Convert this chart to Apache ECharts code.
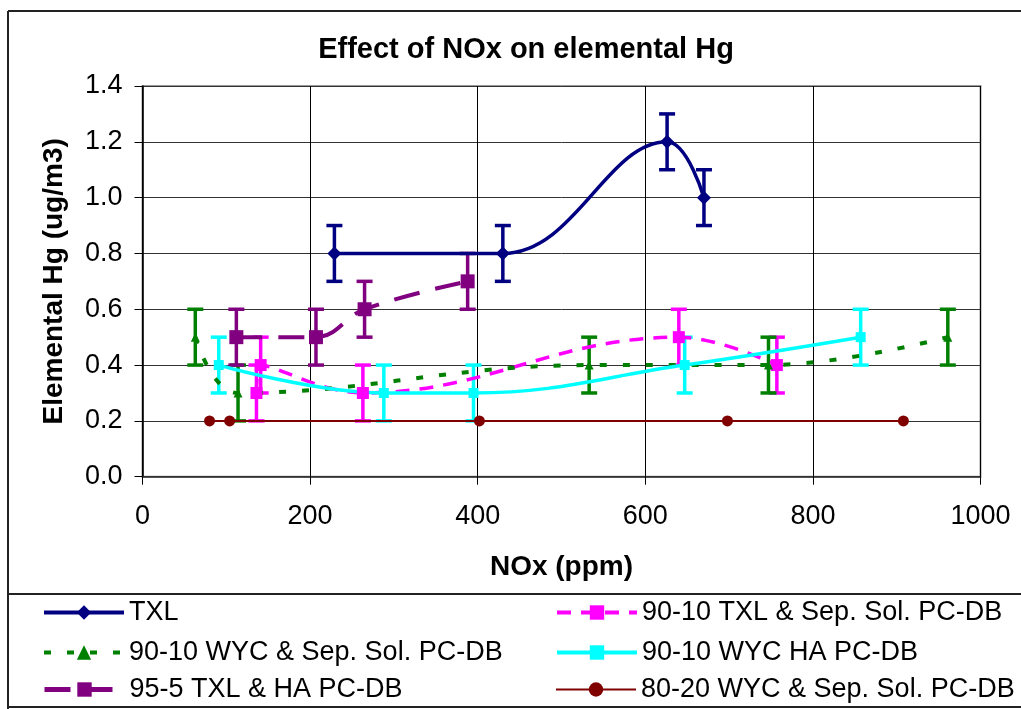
<!DOCTYPE html>
<html>
<head>
<meta charset="utf-8">
<title>Effect of NOx on elemental Hg</title>
<script src="https://cdn.jsdelivr.net/npm/echarts@6/dist/echarts.min.js"></script>
<style>
  html, body { margin: 0; padding: 0; background: #fff; }
  #chart { width: 1021px; height: 709px; }
</style>
</head>
<body>
<div id="chart"></div>
<script>
// NOx (ppm) vs elemental Hg (ug/m3); err = half height of the error bar
const txlX = [229, 430, 626, 670];
const txlY = [0.8, 0.8, 1.2, 1.0];
const txlErr = [0.1, 0.1, 0.1, 0.1];

const txlSepX = [136, 141, 263, 640, 757];
const txlSepY = [0.3, 0.4, 0.3, 0.5, 0.4];
const txlSepErr = [0.1, 0.1, 0.1, 0.1, 0.1];

const wycSepX = [63, 114, 533, 747, 961];
const wycSepY = [0.5, 0.3, 0.4, 0.4, 0.5];
const wycSepErr = [0.1, 0.1, 0.1, 0.1, 0.1];

const wycHaX = [91, 288, 395, 647, 857];
const wycHaY = [0.4, 0.3, 0.3, 0.4, 0.5];
const wycHaErr = [0.1, 0.1, 0.1, 0.1, 0.1];

const txlHaX = [112, 207, 265, 388];
const txlHaY = [0.5, 0.5, 0.6, 0.7];
const txlHaErr = [0.1, 0.1, 0.1, 0.1];

const wyc8020X = [80, 104, 402, 698, 908];
const wyc8020Y = [0.2, 0.2, 0.2, 0.2, 0.2];

const names = [
  'TXL',
  '90-10 TXL & Sep. Sol. PC-DB',
  '90-10 WYC & Sep. Sol. PC-DB',
  '90-10 WYC HA PC-DB',
  '95-5 TXL & HA PC-DB',
  '80-20 WYC & Sep. Sol. PC-DB'
];

const font = 'Liberation Sans, Arial, sans-serif';

function pts(xs, ys) {
  return xs.map((x, i) => [x, ys[i]]);
}
function errPts(xs, ys, es) {
  return xs.map((x, i) => [x, ys[i], es[i]]);
}

// vertical bar with caps, drawn through the axes
function errorBars(color) {
  return function (params, api) {
    const x = api.value(0), y = api.value(1), e = api.value(2);
    const top = api.coord([x, y + e]);
    const bot = api.coord([x, y - e]);
    const half = 8;
    const style = { stroke: color, lineWidth: 3.5 };
    return {
      type: 'group',
      children: [
        { type: 'line', shape: { x1: top[0], y1: top[1], x2: bot[0], y2: bot[1] }, style: style },
        { type: 'line', shape: { x1: top[0] - half, y1: top[1], x2: top[0] + half, y2: top[1] }, style: style },
        { type: 'line', shape: { x1: bot[0] - half, y1: bot[1], x2: bot[0] + half, y2: bot[1] }, style: style }
      ]
    };
  };
}

function errSeries(data, color) {
  return {
    type: 'custom',
    renderItem: errorBars(color),
    data: data,
    encode: { x: 0, y: 1 },
    z: 3,
    silent: true
  };
}

function legendAt(name, left, top, lw) {
  return {
    data: [name],
    left: left,
    top: top,
    itemWidth: 80,
    itemHeight: 18,
    selectedMode: false,
    lineStyle: { width: lw },
    textStyle: { fontFamily: font, fontSize: 27, color: '#000' }
  };
}

const chart = echarts.init(document.getElementById('chart'));

const option = {
  animation: false,
  backgroundColor: '#fff',
  grid: {
    left: 142.5, right: 40.5, top: 86, bottom: 232.3,
    show: true, borderColor: '#999', borderWidth: 2, backgroundColor: '#fff'
  },
  legend: [
    legendAt(names[0], 37, 594, 4),
    legendAt(names[1], 550, 594, 4),
    legendAt(names[2], 37, 634, 4),
    legendAt(names[3], 550, 634, 4),
    legendAt(names[4], 37, 671, 5),
    legendAt(names[5], 550, 671, 2)
  ],
  xAxis: {
    type: 'value', min: 0, max: 1000, interval: 200,
    name: 'NOx (ppm)', nameLocation: 'middle', nameGap: 77,
    nameTextStyle: { fontFamily: font, fontSize: 28, fontWeight: 'bold', color: '#000' },
    axisLine: { lineStyle: { color: '#333', width: 1.5 } },
    axisTick: { length: 8, lineStyle: { color: '#000' } },
    axisLabel: { margin: 26, fontFamily: font, fontSize: 27, color: '#000', formatter: v => String(v) },
    splitLine: { lineStyle: { color: '#000', width: 1 } }
  },
  yAxis: {
    type: 'value', min: 0, max: 1.4, interval: 0.2,
    name: 'Elemental Hg (ug/m3)', nameLocation: 'middle', nameGap: 74,
    nameTextStyle: { fontFamily: font, fontSize: 28, fontWeight: 'bold', color: '#000' },
    axisLine: { show: true, lineStyle: { color: '#000', width: 1.5 } },
    axisTick: { show: true, length: 8, lineStyle: { color: '#000' } },
    axisLabel: { margin: 20, fontFamily: font, fontSize: 27, color: '#000', formatter: v => v.toFixed(1) },
    splitLine: { lineStyle: { color: '#333', width: 1 } }
  },
  graphic: [
    { type: 'line', shape: { x1: 8, y1: 11, x2: 1021, y2: 11 }, style: { stroke: '#222', lineWidth: 2 } },
    { type: 'line', shape: { x1: 8, y1: 11, x2: 8, y2: 709 }, style: { stroke: '#222', lineWidth: 2 } },
    { type: 'line', shape: { x1: 8, y1: 594, x2: 1021, y2: 594 }, style: { stroke: '#222', lineWidth: 2 } },
    { type: 'line', shape: { x1: 8, y1: 707, x2: 1021, y2: 707 }, style: { stroke: '#222', lineWidth: 2 } },
    {
      type: 'text', x: 526, y: 50,
      style: {
        text: 'Effect of NOx on elemental Hg', fill: '#000',
        font: 'bold 29px ' + font, textAlign: 'center', textVerticalAlign: 'middle'
      }
    }
  ],
  series: [
    {
      name: names[0], type: 'line', data: pts(txlX, txlY), smooth: 0.4,
      symbol: 'diamond', symbolSize: 14,
      itemStyle: { color: '#000080' }, lineStyle: { color: '#000080', width: 3.5 }
    },
    {
      name: names[1], type: 'line', data: pts(txlSepX, txlSepY), smooth: 0.4,
      symbol: 'rect', symbolSize: 12,
      itemStyle: { color: '#ff00ff' }, lineStyle: { color: '#ff00ff', width: 3.5, type: [14, 10] }
    },
    {
      name: names[2], type: 'line', data: pts(wycSepX, wycSepY), smooth: 0.4,
      symbol: 'triangle', symbolSize: 9,
      itemStyle: { color: '#008000' }, lineStyle: { color: '#008000', width: 4, type: [7, 16] }
    },
    {
      name: names[3], type: 'line', data: pts(wycHaX, wycHaY), smooth: 0.4,
      symbol: 'rect', symbolSize: 10,
      itemStyle: { color: '#00ffff' }, lineStyle: { color: '#00ffff', width: 3.5 }
    },
    {
      name: names[4], type: 'line', data: pts(txlHaX, txlHaY), smooth: 0.4,
      symbol: 'rect', symbolSize: 14,
      itemStyle: { color: '#800080' }, lineStyle: { color: '#800080', width: 4, type: [26, 16] }
    },
    {
      name: names[5], type: 'line', data: pts(wyc8020X, wyc8020Y),
      symbol: 'circle', symbolSize: 11,
      itemStyle: { color: '#800000' }, lineStyle: { color: '#800000', width: 2 }
    },
    errSeries(errPts(txlX, txlY, txlErr), '#000080'),
    errSeries(errPts(txlSepX, txlSepY, txlSepErr), '#ff00ff'),
    errSeries(errPts(wycSepX, wycSepY, wycSepErr), '#008000'),
    errSeries(errPts(wycHaX, wycHaY, wycHaErr), '#00ffff'),
    errSeries(errPts(txlHaX, txlHaY, txlHaErr), '#800080')
  ]
};

chart.setOption(option);
</script>
</body>
</html>
